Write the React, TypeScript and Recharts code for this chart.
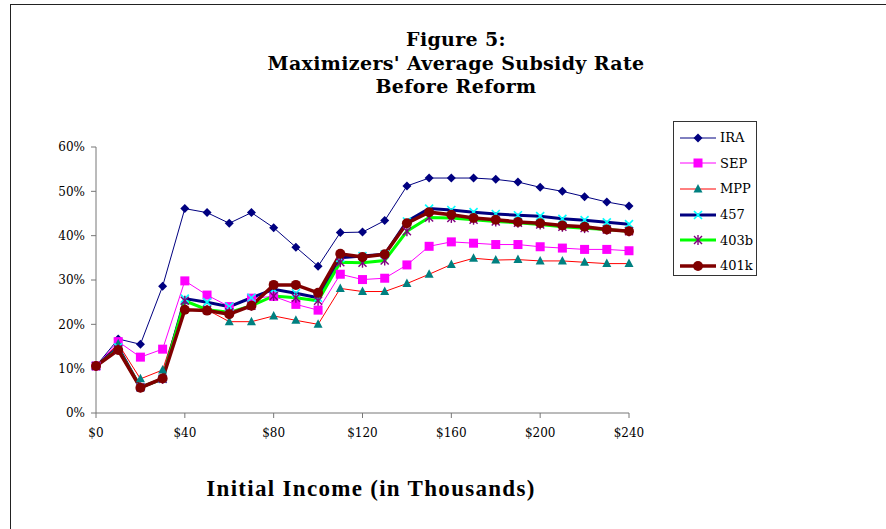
import React from "react";
import { CartesianGrid, Legend, Line, LineChart, XAxis, YAxis } from "recharts";

// income in thousands of dollars
const incomes = [0, 10, 20, 30, 40, 50, 60, 70, 80, 90, 100, 110, 120, 130, 140, 150, 160, 170, 180, 190, 200, 210, 220, 230, 240];

// average subsidy rate, percent
const ira = [10.6, 16.7, 15.5, 28.6, 46.1, 45.2, 42.8, 45.2, 41.8, 37.4, 33.1, 40.7, 40.8, 43.4, 51.2, 53.0, 53.0, 53.0, 52.7, 52.1, 50.9, 50.0, 48.8, 47.6, 46.7];
const sep = [10.6, 16.1, 12.6, 14.4, 29.8, 26.6, 24.0, 25.9, 26.3, 24.5, 23.2, 31.3, 30.1, 30.4, 33.4, 37.6, 38.6, 38.3, 38.0, 38.0, 37.5, 37.2, 36.9, 36.9, 36.6];
const mpp = [10.6, 15.6, 7.7, 9.7, 25.3, 23.3, 20.6, 20.6, 21.9, 20.9, 20.0, 28.1, 27.4, 27.4, 29.2, 31.3, 33.5, 34.9, 34.5, 34.6, 34.3, 34.3, 34.0, 33.7, 33.7];
const p457 = [10.6, 14.8, 5.8, 7.7, 25.8, 25.0, 24.0, 26.0, 27.9, 27.0, 26.0, 35.0, 35.4, 35.8, 43.2, 46.1, 45.8, 45.3, 44.9, 44.6, 44.4, 43.8, 43.5, 43.0, 42.6];
const p403b = [10.6, 14.4, 5.8, 7.7, 25.3, 23.3, 22.7, 24.2, 26.4, 26.0, 25.3, 34.0, 33.9, 34.4, 41.0, 44.1, 44.0, 43.6, 43.2, 42.9, 42.5, 42.0, 41.7, 41.4, 41.0];
const p401k = [10.6, 14.2, 5.7, 7.8, 23.3, 23.1, 22.3, 24.2, 28.9, 28.9, 27.1, 35.9, 35.2, 35.8, 42.8, 45.3, 44.7, 44.0, 43.6, 43.1, 42.8, 42.3, 42.0, 41.4, 41.0];

const xTicks = [0, 40, 80, 120, 160, 200, 240];
const yTicks = [0, 10, 20, 30, 40, 50, 60];

const data = incomes.map((income, i) => ({
  income,
  IRA: ira[i],
  SEP: sep[i],
  MPP: mpp[i],
  "457": p457[i],
  "403b": p403b[i],
  "401k": p401k[i]
}));

type Marker = "diamond" | "square" | "triangle" | "cross" | "star" | "circle";

interface SeriesDef {
  key: string;
  line: string;
  width: number;
  marker: Marker;
  fill: string;
}

const series: SeriesDef[] = [
  { key: "IRA", line: "#000080", width: 1, marker: "diamond", fill: "#000080" },
  { key: "SEP", line: "#ff00ff", width: 1, marker: "square", fill: "#ff00ff" },
  { key: "MPP", line: "#ff0000", width: 1, marker: "triangle", fill: "#008080" },
  { key: "457", line: "#000080", width: 3, marker: "cross", fill: "#00ffff" },
  { key: "403b", line: "#00ff00", width: 3, marker: "star", fill: "#800080" },
  { key: "401k", line: "#800000", width: 3.5, marker: "circle", fill: "#800000" }
];

const SERIF = "'DejaVu Serif', serif";

function drawMarker(kind: Marker, color: string, cx: number, cy: number, key?: string) {
  if (cx == null || cy == null) return <g key={key} />;
  switch (kind) {
    case "diamond":
      return <polygon key={key} points={`${cx},${cy - 4.5} ${cx + 4.5},${cy} ${cx},${cy + 4.5} ${cx - 4.5},${cy}`} fill={color} />;
    case "square":
      return <rect key={key} x={cx - 4.5} y={cy - 4.5} width={9} height={9} fill={color} />;
    case "triangle":
      return <polygon key={key} points={`${cx},${cy - 5} ${cx + 4.5},${cy + 3.5} ${cx - 4.5},${cy + 3.5}`} fill={color} />;
    case "cross":
      return (
        <g key={key} stroke={color} strokeWidth={1.6}>
          <line x1={cx - 4} y1={cy - 4} x2={cx + 4} y2={cy + 4} />
          <line x1={cx - 4} y1={cy + 4} x2={cx + 4} y2={cy - 4} />
        </g>
      );
    case "star":
      return (
        <g key={key} stroke={color} strokeWidth={1.4}>
          <line x1={cx - 4} y1={cy - 4} x2={cx + 4} y2={cy + 4} />
          <line x1={cx - 4} y1={cy + 4} x2={cx + 4} y2={cy - 4} />
          <line x1={cx} y1={cy - 5} x2={cx} y2={cy + 5} />
        </g>
      );
    default:
      return <circle key={key} cx={cx} cy={cy} r={5} fill={color} />;
  }
}

function LegendBox() {
  return (
    <div style={{ width: 84, height: 155, border: "1px solid #333", boxSizing: "border-box", background: "#fff", paddingTop: 3 }}>
      {series.map((s) => (
        <div key={s.key} style={{ display: "flex", alignItems: "center", height: 25.6 }}>
          <svg width={38} height={14} style={{ marginLeft: 5 }}>
            <line x1={1} y1={7} x2={37} y2={7} stroke={s.line} strokeWidth={s.width} />
            {drawMarker(s.marker, s.fill, 19, 7)}
          </svg>
          <span style={{ fontFamily: SERIF, fontSize: 13, color: "#000", marginLeft: 3 }}>{s.key}</span>
        </div>
      ))}
    </div>
  );
}

export default function App() {
  return (
    <div style={{ position: "absolute", left: 0, top: 0, width: 886, height: 529, overflow: "hidden", background: "#fff" }}>
      <div style={{ position: "absolute", left: 10, top: 4, width: 1000, height: 700, border: "1px solid #222" }} />
      <div
        style={{
          position: "absolute",
          left: 256,
          width: 400,
          top: 28,
          textAlign: "center",
          fontFamily: SERIF,
          fontWeight: "bold",
          fontSize: 19,
          letterSpacing: 0.35,
          lineHeight: "23.5px",
          color: "#000"
        }}
      >
        Figure 5:
        <br />
        Maximizers' Average Subsidy Rate
        <br />
        Before Reform
      </div>
      <div style={{ position: "absolute", left: 0, top: 0 }}>
        <LineChart width={886} height={529} data={data} margin={{ top: 147, right: 257, bottom: 96, left: 36 }}>
          <CartesianGrid stroke="none" />
          <XAxis
            dataKey="income"
            type="number"
            domain={[0, 240]}
            ticks={xTicks}
            tickFormatter={(v: number) => `$${v}`}
            height={20}
            stroke="#777"
            tickSize={5}
            tickMargin={10}
            tick={{ fill: "#000", fontSize: 12, fontFamily: SERIF }}
          />
          <YAxis
            type="number"
            domain={[0, 60]}
            ticks={yTicks}
            tickFormatter={(v: number) => `${v}%`}
            width={60}
            stroke="#777"
            tickSize={5}
            tickMargin={6}
            tick={{ fill: "#000", fontSize: 12, fontFamily: SERIF }}
          />
          <Legend
            layout="horizontal"
            verticalAlign="middle"
            align="center"
            wrapperStyle={{ left: 673, top: 121, width: 84 }}
            content={() => <LegendBox />}
          />
          {series.map((s) => (
            <Line
              key={s.key}
              dataKey={s.key}
              stroke={s.line}
              strokeWidth={s.width}
              isAnimationActive={false}
              activeDot={false}
              dot={(p: any) => drawMarker(s.marker, s.fill, p.cx, p.cy, `${s.key}-${p.index}`)}
            />
          ))}
        </LineChart>
      </div>
      <div
        style={{
          position: "absolute",
          left: 171,
          width: 400,
          top: 476,
          textAlign: "center",
          fontFamily: "'Liberation Serif', serif",
          fontWeight: "bold",
          fontSize: 23,
          letterSpacing: 1.3,
          color: "#000"
        }}
      >
        Initial Income (in Thousands)
      </div>
    </div>
  );
}
